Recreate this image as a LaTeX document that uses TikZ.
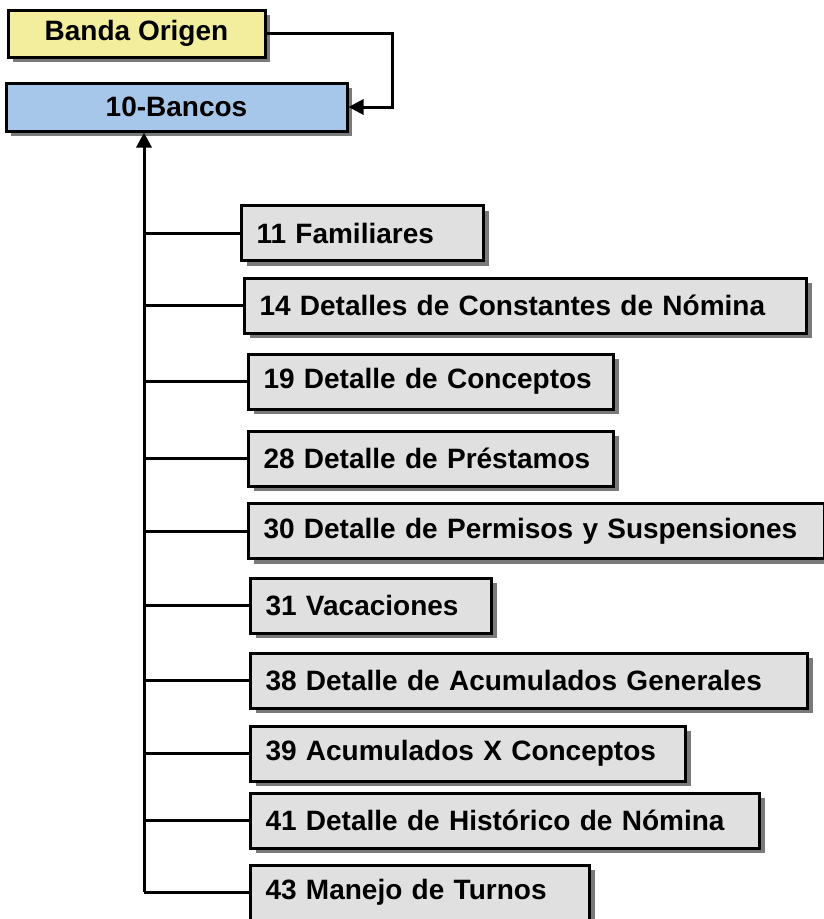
\documentclass[tikz,border=0pt]{standalone}
\usepackage{fontspec}
\setmainfont{Liberation Sans}
\usetikzlibrary{shadows,arrows.meta}
\definecolor{amarillo}{HTML}{F2EE9E}
\definecolor{azul}{HTML}{A6C6EA}
\definecolor{gris}{HTML}{E0E0E0}
\definecolor{sombra}{HTML}{7A7A7A}

\tikzset{
  caja/.style={draw=black, line width=3pt, rectangle, minimum height=55pt,
    font=\fontsize{28}{30}\selectfont\bfseries,
    drop shadow={shadow xshift=5pt, shadow yshift=-5pt, fill=sombra, opacity=1}},
  linea/.style={line width=3pt},
  flecha/.style={line width=3pt, -{Triangle[length=15pt,width=15pt]}}
}

\begin{document}
\begin{tikzpicture}[x=1pt,y=1pt]
    \useasboundingbox (0,0) rectangle (824,-919);
    \node[caja, fill=amarillo, minimum width=257pt, minimum height=47pt] (banda) at (136.5,-33.5) {Banda Origen};
    \node[caja, fill=azul, minimum width=341pt, minimum height=48pt] (bancos) at (176.5,-107) {10-Bancos};
    \coordinate (codo) at (392,-33.5);
    \coordinate (tronco) at (144,-892);
    % pantallas que dependen de bancos
    \foreach \n/\x/\y/\w/\t in {
        c11/240/-233/242/{11 Familiares},
        c14/243/-305.5/562/{14 Detalles de Constantes de Nómina},
        c19/247/-381.5/365/{19 Detalle de Conceptos},
        c28/247/-458.5/365/{28 Detalle de Préstamos},
        c30/247/-531/576/{30 Detalle de Permisos y Suspensiones},
        c31/249/-605.5/241/{31 Vacaciones},
        c38/249/-680.5/557/{38 Detalle de Acumulados Generales},
        c39/249/-753.5/435/{39 Acumulados X Conceptos},
        c41/249/-820.5/509/{41 Detalle de Histórico de Nómina},
        c43/249/-892.5/339/{43 Manejo de Turnos}}{
        \pgfmathsetmacro{\ancho}{\w-30}
        \node[caja, fill=gris, anchor=west, inner xsep=15pt, text width=\ancho pt, align=left] (\n) at (\x,\y) {\t};
        \draw[linea] (tronco |- \n.west) -- (\n.west);
    }
    \draw[flecha] (banda.east) -- (codo) |- (bancos.east);
    \draw[flecha] (tronco) -- (tronco |- bancos.south);
\end{tikzpicture}
\end{document}
